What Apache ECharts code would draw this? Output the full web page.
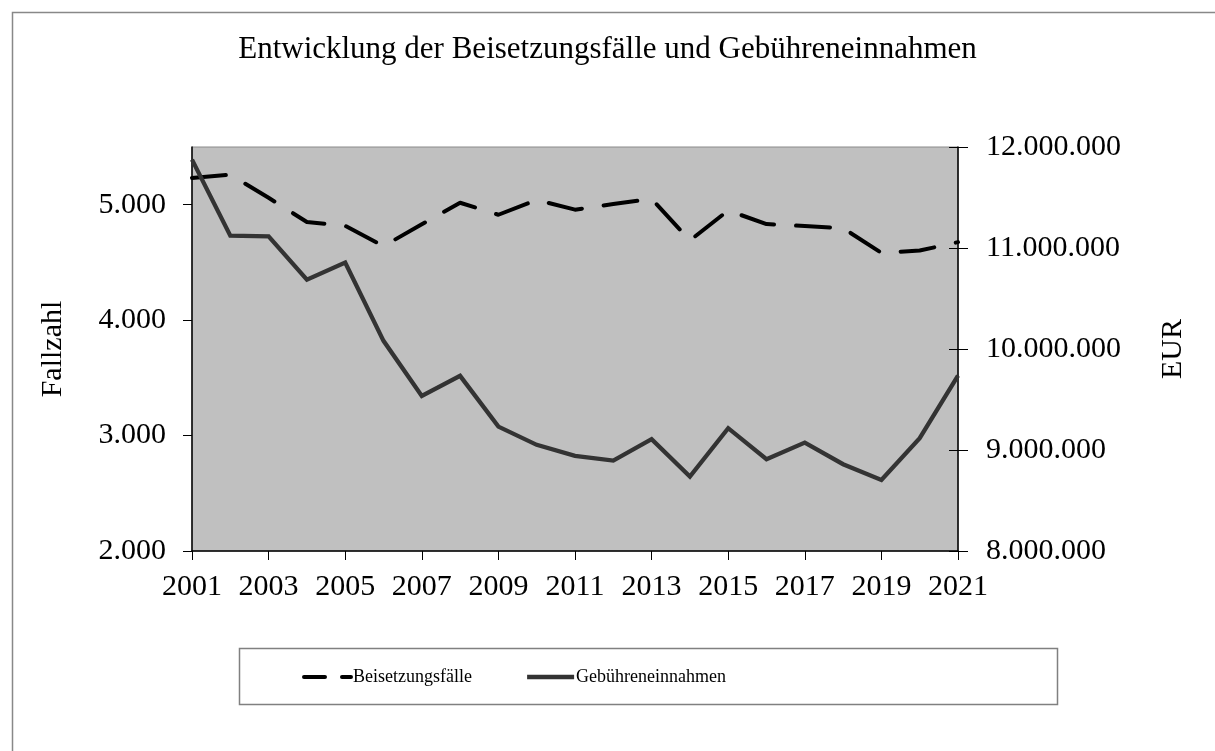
<!DOCTYPE html>
<html>
<head>
<meta charset="utf-8">
<script src="https://cdn.jsdelivr.net/npm/echarts@6/dist/echarts.min.js"></script>
<style>html,body{margin:0;padding:0;background:#fff}#c{width:1215px;height:751px}</style>
</head>
<body>
<div id="c"></div>
<script>
const years = ['2001','2002','2003','2004','2005','2006','2007','2008','2009','2010','2011','2012','2013','2014','2015','2016','2017','2018','2019','2020','2021'];
const beisetzungsfaelle = [5232,5260,5060,4850,4817,4641,4830,5017,4913,5041,4957,5006,5052,4690,4950,4832,4815,4797,4583,4603,4676];
const gebuehreneinnahmen = [11875000,11122000,11115000,10686000,10857000,10081000,9536000,9734000,9232000,9051000,8942000,8895000,9107000,8737000,9216000,8909000,9073000,8859000,8704000,9117000,9737000];
const leftTicks = [2000,3000,4000,5000];
const rightTicks = [8000000,9000000,10000000,11000000,12000000];
const titleText = 'Entwicklung der Beisetzungsfälle und Gebühreneinnahmen';
const leftName = 'Fallzahl';
const rightName = 'EUR';
const seriesNames = ['Beisetzungsfälle','Gebühreneinnahmen'];

const FONT = "'Liberation Serif','Times New Roman',serif";
function fmt(v){ return String(Math.round(v)).replace(/\B(?=(\d{3})+(?!\d))/g,'.'); }

const chart = echarts.init(document.getElementById('c'));
chart.setOption({
  animation: false,
  backgroundColor: '#fff',
  title: {
    text: titleText, left: 'center', top: 29,
    textStyle: {fontFamily: FONT, fontWeight: 'normal', fontSize: 31, color: '#000'}
  },
  graphic: [
    {type:'rect', left:10, top:10, shape:{x:0,y:0,width:1230,height:770}, style:{fill:'none', stroke:'#888', lineWidth:1.5}, z:-10},
    {type:'rect', shape:{x:239.5,y:648.5,width:818,height:56}, style:{fill:'#fff', stroke:'#808080', lineWidth:1.5}, z:-5}
  ],
  legend: {
    left: 297, top: 663, itemWidth: 47, itemHeight: 14, itemGap: 53,
    textStyle: {fontFamily: FONT, fontSize: 18, color: '#000', padding: [0,0,0,-3]},
    itemStyle: {opacity: 0},
    data: [
      {name: seriesNames[0], lineStyle: {color: '#000', width: 4, type: [21, 17], cap: 'round'}},
      {name: seriesNames[1], lineStyle: {color: '#333', width: 4.3, type: 'solid'}}
    ]
  },
  grid: {
    left: 192, right: 257, top: 147, bottom: 200, show: true,
    backgroundColor: '#c0c0c0', borderColor: '#8a8a8a', borderWidth: 1
  },
  xAxis: {
    type: 'category', data: years, boundaryGap: false,
    axisLine: {lineStyle: {color: '#000', width: 1.5}},
    axisTick: {interval: 1, length: 9, lineStyle: {color: '#000'}},
    axisLabel: {interval: 1, margin: 21, fontFamily: FONT, fontSize: 30, color: '#000'}
  },
  yAxis: [
    {
      type: 'value', min: 2000, max: 5500, position: 'left',
      name: leftName, nameLocation: 'middle', nameGap: 124, nameRotate: 90,
      nameTextStyle: {fontFamily: FONT, fontSize: 30, color: '#000'},
      axisLine: {show: true, lineStyle: {color: '#000', width: 1.5}},
      axisTick: {show: true, length: 9, customValues: leftTicks, lineStyle: {color: '#000'}},
      axisLabel: {customValues: leftTicks, margin: 26, fontFamily: FONT, fontSize: 30, color: '#000', formatter: fmt},
      splitLine: {show: false}
    },
    {
      type: 'value', min: 8000000, max: 12000000, position: 'right',
      name: rightName, nameLocation: 'middle', nameGap: 200, nameRotate: 90,
      nameTextStyle: {fontFamily: FONT, fontSize: 30, color: '#000'},
      axisLine: {show: true, lineStyle: {color: '#000', width: 1.5}},
      axisTick: {show: true, length: 10, customValues: rightTicks, lineStyle: {color: '#000'}},
      axisLabel: {customValues: rightTicks, margin: 28, fontFamily: FONT, fontSize: 30, color: '#000', formatter: fmt},
      splitLine: {show: false}
    },
    {
      type: 'value', min: 8000000, max: 12000000, position: 'right',
      axisLine: {show: false},
      axisTick: {show: true, inside: true, length: 9, customValues: rightTicks, lineStyle: {color: '#000'}},
      axisLabel: {show: false},
      splitLine: {show: false}
    }
  ],
  series: [
    {
      name: seriesNames[0], type: 'line', yAxisIndex: 0, data: beisetzungsfaelle,
      symbol: 'none', z: 3,
      lineStyle: {color: '#000', width: 4, type: [34, 22], cap: 'round', join: 'round'},
      itemStyle: {color: '#000'}
    },
    {
      name: seriesNames[1], type: 'line', yAxisIndex: 1, data: gebuehreneinnahmen,
      symbol: 'none', z: 4,
      lineStyle: {color: '#333', width: 4.3, join: 'miter'},
      itemStyle: {color: '#333'}
    }
  ]
});
</script>
</body>
</html>
